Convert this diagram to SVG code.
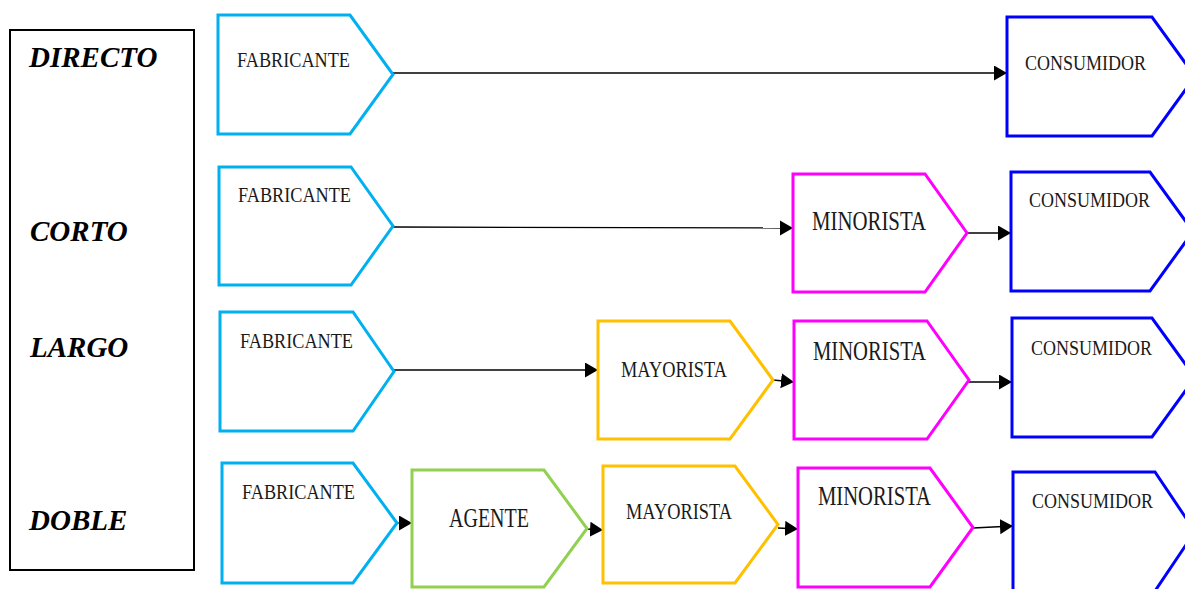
<svg xmlns="http://www.w3.org/2000/svg" width="1185" height="589" viewBox="0 0 1185 589">
<style>
.lbl{font-family:"Liberation Serif","Times New Roman",serif;font-weight:bold;font-style:italic;font-size:29px;fill:#000}
.t{font-family:"Liberation Serif","Times New Roman",serif;fill:#1a1a1a}
.s{fill:#fff;stroke-width:3;stroke-linejoin:miter}
.fab{stroke:#00B0F0}.con{stroke:#0000FF}.min{stroke:#FF00FF}.may{stroke:#FFC000}.age{stroke:#92D050}
.c{stroke:#000;stroke-width:1.3;fill:none;marker-end:url(#ah)}
</style>
<defs>
<marker id="ah" markerUnits="userSpaceOnUse" markerWidth="14" markerHeight="16" refX="13" refY="7.5" orient="auto">
<path d="M0,0 L13,7.5 L0,15 z" fill="#000"/>
</marker>
</defs>
<rect width="1185" height="589" fill="#fff"/>
<g id="legend">
<rect x="10" y="30" width="184" height="540" fill="none" stroke="#000" stroke-width="2"/>
<text class="lbl" x="29" y="67">DIRECTO</text>
<text class="lbl" x="30" y="241">CORTO</text>
<text class="lbl" x="30" y="357">LARGO</text>
<text class="lbl" x="29" y="530">DOBLE</text>
</g>
<g id="connectors">
<path class="c" d="M393,73 L1007,73"/>
<path class="c" d="M393,227 L793,228"/>
<path class="c" d="M967,233 L1011,233"/>
<path class="c" d="M394,370 L598,370"/>
<path class="c" d="M773,380 L794,382"/>
<path class="c" d="M969,382 L1012,382"/>
<path class="c" d="M397,523 L412,523"/>
<path class="c" d="M587,529 L603,530"/>
<path class="c" d="M778,528 L798,529"/>
<path class="c" d="M973,528 L1013,526"/>
</g>
<g id="fabricante1"><polygon class="s fab" points="218,15 350,15 393,74.5 350,134 218,134"/><text class="t" x="237" y="67" font-size="21" textLength="113" lengthAdjust="spacingAndGlyphs">FABRICANTE</text></g>
<g id="consumidor1"><polygon class="s con" points="1007,17 1152,17 1195,76.5 1152,136 1007,136"/><text class="t" x="1025" y="70" font-size="22" textLength="121" lengthAdjust="spacingAndGlyphs">CONSUMIDOR</text></g>

<g id="fabricante2"><polygon class="s fab" points="219,167 351,167 393,226 351,285 219,285"/><text class="t" x="238" y="202" font-size="21" textLength="113" lengthAdjust="spacingAndGlyphs">FABRICANTE</text></g>
<g id="minorista2"><polygon class="s min" points="793,174 925,174 967,233 925,292 793,292"/><text class="t" x="812" y="230" font-size="27" textLength="114" lengthAdjust="spacingAndGlyphs">MINORISTA</text></g>
<g id="consumidor2"><polygon class="s con" points="1011,172 1150,172 1193,231.5 1150,291 1011,291"/><text class="t" x="1029" y="207" font-size="22" textLength="121" lengthAdjust="spacingAndGlyphs">CONSUMIDOR</text></g>

<g id="fabricante3"><polygon class="s fab" points="220,312 353,312 394,371.5 353,431 220,431"/><text class="t" x="240" y="348" font-size="21" textLength="113" lengthAdjust="spacingAndGlyphs">FABRICANTE</text></g>
<g id="mayorista3"><polygon class="s may" points="598,321 730,321 773,380 730,439 598,439"/><text class="t" x="621" y="377" font-size="23" textLength="106" lengthAdjust="spacingAndGlyphs">MAYORISTA</text></g>
<g id="minorista3"><polygon class="s min" points="794,321 927,321 969,380 927,439 794,439"/><text class="t" x="813" y="360" font-size="27" textLength="113" lengthAdjust="spacingAndGlyphs">MINORISTA</text></g>
<g id="consumidor3"><polygon class="s con" points="1012,318 1152,318 1195,377.5 1152,437 1012,437"/><text class="t" x="1031" y="355" font-size="22" textLength="121" lengthAdjust="spacingAndGlyphs">CONSUMIDOR</text></g>

<g id="fabricante4"><polygon class="s fab" points="222,463 353,463 397,523 353,583 222,583"/><text class="t" x="242" y="499" font-size="21" textLength="113" lengthAdjust="spacingAndGlyphs">FABRICANTE</text></g>
<g id="agente4"><polygon class="s age" points="412,470 544,470 587,528.5 544,587 412,587"/><text class="t" x="449" y="527" font-size="27" textLength="80" lengthAdjust="spacingAndGlyphs">AGENTE</text></g>
<g id="mayorista4"><polygon class="s may" points="603,466 735,466 778,524.5 735,583 603,583"/><text class="t" x="626" y="519" font-size="23" textLength="106" lengthAdjust="spacingAndGlyphs">MAYORISTA</text></g>
<g id="minorista4"><polygon class="s min" points="798,468 930,468 973,527.5 930,587 798,587"/><text class="t" x="818" y="505" font-size="27" textLength="113" lengthAdjust="spacingAndGlyphs">MINORISTA</text></g>
<g id="consumidor4"><polygon class="s con" points="1013,472 1155,472 1195,531.5 1155,591 1013,591"/><text class="t" x="1032" y="508" font-size="22" textLength="121" lengthAdjust="spacingAndGlyphs">CONSUMIDOR</text></g>
</svg>
